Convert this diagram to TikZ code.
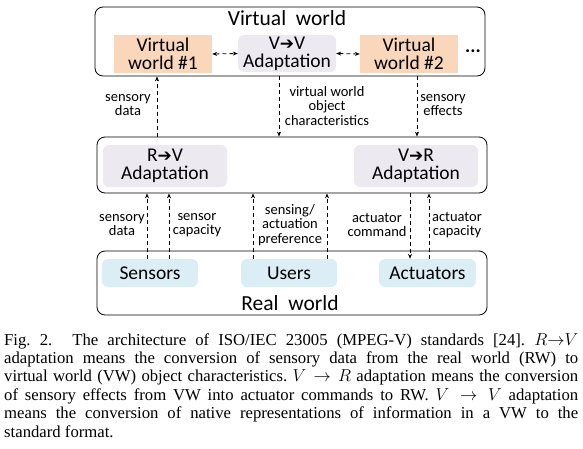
\documentclass[tikz,border=0pt]{standalone}
\usepackage{fontspec}
\setmainfont{Liberation Serif}
\newfontfamily\diagfont{Carlito}
\newfontfamily\arrowfont{DejaVu Sans}
\usetikzlibrary{arrows.meta}
\definecolor{vwpeach}{RGB}{250,214,186}
\definecolor{adaptgray}{RGB}{236,233,241}
\definecolor{rwblue}{RGB}{220,238,245}
\newcommand{\toarrow}{{\arrowfont\bfseries\fontsize{17}{17}\selectfont ➔}}
\newcommand{\titlefont}{\diagfont\fontsize{21.5}{22}\selectfont}
\newcommand{\boxfont}{\diagfont\fontsize{19.5}{18}\selectfont}
\newcommand{\notefont}{\diagfont\fontsize{14.5}{14.5}\selectfont}
\tikzset{
  frame/.style={draw, rounded corners=8pt, line width=0.8pt, inner sep=0pt},
  vwbox/.style={fill=vwpeach, font=\boxfont, align=center, inner sep=0pt,
    minimum width=98pt, minimum height=38pt},
  adapt/.style={fill=adaptgray, rounded corners=6pt, font=\boxfont, align=center,
    inner sep=0pt, minimum width=124pt, minimum height=42pt},
  rwbox/.style={fill=rwblue, rounded corners=6pt, font=\boxfont, align=center,
    inner sep=0pt, minimum width=97pt, minimum height=28pt},
  note/.style={font=\notefont, align=center, inner sep=0pt},
  flow/.style={line width=0.8pt, dash pattern=on 4pt off 3pt,
    -{Stealth[length=5pt,width=4pt]}},
  twoway/.style={flow, {Stealth[length=5pt,width=4pt]}-{Stealth[length=5pt,width=4pt]}}
}
\begin{document}
\begin{tikzpicture}[x=1pt,y=-1pt]
  \useasboundingbox (0,0) rectangle (583,448);
  \draw
    (290,41.5) node[frame, minimum width=390pt, minimum height=69pt] (vw){}
    (292,165) node[frame, minimum width=390pt, minimum height=56pt] (mid){}
    (292,283) node[frame, minimum width=390pt, minimum height=64pt] (rw){};
  \draw
    (287,18) node[font=\titlefont] (vwtitle){Virtual\ \ world}
    (163,54) node[vwbox] (vw1){Virtual\\world \#1}
    (287,53.5) node[vwbox, fill=adaptgray, rounded corners=6pt, minimum height=37pt] (vv){V\toarrow V\\Adaptation}
    (409,54) node[vwbox] (vw2){Virtual\\world \#2}
    (473,51) node[font=\boxfont] (more){\textbf{...}}
    (165,166) node[adapt] (rv){R\toarrow V\\Adaptation}
    (416,166) node[adapt] (vr){V\toarrow R\\Adaptation}
    (150,273) node[rwbox, minimum width=96pt] (sensors){Sensors}
    (289,273) node[rwbox, minimum width=96pt] (users){Users}
    (427.5,273) node[rwbox] (actuators){Actuators}
    (290,303) node[font=\titlefont] (rwtitle){Real\ \ world};
  \draw
    (128,105) node[note] (sdtop){sensory\\data}
    (327,106) node[note] (vwoc){virtual world\\object\\characteristics}
    (443,105) node[note] (seff){sensory\\effects}
    (122,225) node[note] (sdbot){sensory\\data}
    (197,225) node[note] (scap){sensor\\capacity}
    (290,225) node[note] (pref){sensing/\\actuation\\preference}
    (377,225) node[note] (acmd){actuator\\command}
    (457,225) node[note] (acap){actuator\\capacity};
  \begin{scope}
    \draw[twoway] (vw1.east) -- (vv.west);
    \draw[twoway] (vv.east) -- (vw2.west);
    \draw[flow] (mid.north -| 157,0) -- (vw.south -| 157,0);
    \draw[flow] (vw.south -| 279,0) -- (mid.north -| 279,0);
    \draw[flow] (vw.south -| 417,0) -- (mid.north -| 417,0);
    \draw[flow] (sensors.north -| 147,0) -- (mid.south -| 147,0);
    \draw[flow] (sensors.north -| 169,0) -- (mid.south -| 169,0);
    \draw[flow] (users.north -| 253,0) -- (mid.south -| 253,0);
    \draw[flow] (users.north -| 327,0) -- (mid.south -| 327,0);
    \draw[flow] (mid.south -| 410,0) -- (actuators.north -| 410,0);
    \draw[flow] (actuators.north -| 429,0) -- (mid.south -| 429,0);
  \end{scope}
  \node[anchor=north west, inner sep=0pt, text width=574pt, align=justify,
    font=\fontsize{16.7}{18.4}\selectfont] (caption) at (4,333)
    {\frenchspacing\hyphenpenalty=10000\relax
    Fig. 2.\hspace{1.2em}The architecture of ISO/IEC 23005 (MPEG-V) standards [24]. $R{\rightarrow}V$\linebreak
    adaptation means the conversion of sensory data from the real world (RW) to\linebreak
    virtual world (VW) object characteristics. $V\rightarrow R$ adaptation means the conversion\linebreak
    of sensory effects from VW into actuator commands to RW. $V\rightarrow V$ adaptation\linebreak
    means the conversion of native representations of information in a VW to the\linebreak
    standard format.};
\end{tikzpicture}
\end{document}
